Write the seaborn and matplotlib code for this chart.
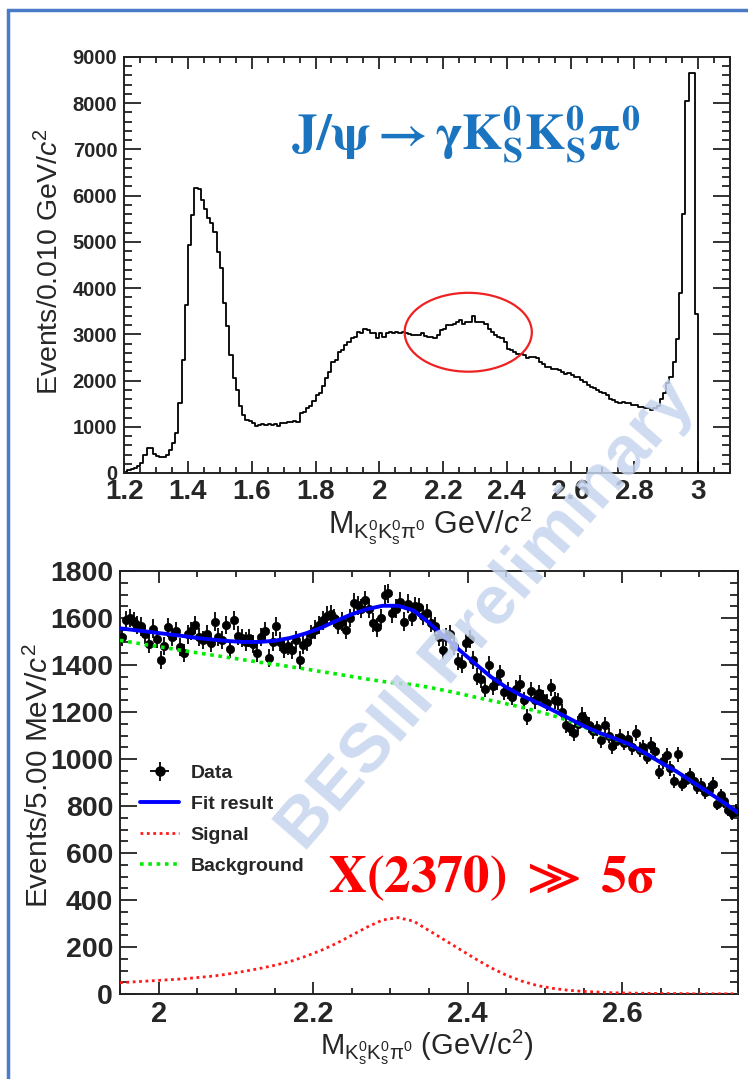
import numpy as np
import pandas as pd
import matplotlib
matplotlib.use("Agg")
import matplotlib.pyplot as plt
import seaborn as sns
from matplotlib.patches import Ellipse, Rectangle
from matplotlib.ticker import MultipleLocator, FixedLocator, FixedFormatter
from matplotlib.lines import Line2D

# ---------------- data ----------------
# Top panel: events per 0.010 GeV/c^2, bins from 1.20 to 3.10
top_counts = [
    15, 55, 85, 110, 145, 220, 400, 540, 540, 420,
    360, 345, 345, 395, 505, 650, 865, 1510, 2450, 3640,
    4930, 5580, 6160, 6150, 5900, 5720, 5510, 5400, 5220, 4790,
    4430, 3670, 3170, 2560, 2050, 1800, 1440, 1260, 1150, 1120,
    1080, 1010, 1030, 1050, 1040, 1060, 1040, 1060, 1010, 1080,
    1090, 1110, 1100, 1120, 1100, 1290, 1330, 1400, 1450, 1560,
    1680, 1720, 1880, 2045, 2190, 2400, 2440, 2620, 2660, 2760,
    2840, 2910, 2945, 3050, 3030, 3125, 3090, 3030, 3020, 2910,
    3030, 2945, 3020, 3050, 3030, 3050, 3020, 3050, 3020, 3000,
    2980, 2980, 2980, 3020, 2960, 2945, 2945, 2910, 2980, 3090,
    3125, 3200, 3200, 3230, 3270, 3300, 3230, 3270, 3270, 3390,
    3270, 3270, 3270, 3230, 3125, 3050, 2980, 2945, 2910, 2840,
    2690, 2660, 2620, 2585, 2585, 2550, 2480, 2510, 2510, 2480,
    2400, 2350, 2300, 2300, 2260, 2260, 2225, 2190, 2150, 2170,
    2115, 2080, 2080, 2010, 1970, 1900, 1860, 1830, 1790, 1755,
    1720, 1680, 1610, 1575, 1540, 1520, 1540, 1505, 1505, 1470,
    1470, 1430, 1430, 1400, 1400, 1360, 1400, 1460, 1600, 1720,
    1940, 2080, 2400, 2900, 3900, 5600, 8050, 8650, 8650, 3450,
    0, 0, 0, 0, 0, 0, 0, 0, 0, 0,
]
top_xticks = [1.2, 1.4, 1.6, 1.8, 2.0, 2.2, 2.4, 2.6, 2.8, 3.0]
top_xticklabels = ["1.2", "1.4", "1.6", "1.8", "2", "2.2", "2.4", "2.6", "2.8", "3"]
top_yticks = [0, 1000, 2000, 3000, 4000, 5000, 6000, 7000, 8000, 9000]

# Bottom panel: events per 5 MeV/c^2, bins from 1.95 to 2.75
data_counts = [
    1520, 1590, 1600, 1585, 1570, 1565, 1530, 1490, 1555, 1510,
    1420, 1480, 1560, 1520, 1545, 1475, 1450, 1530, 1545, 1570,
    1520, 1505, 1530, 1495, 1585, 1520, 1505, 1570, 1470, 1590,
    1525, 1515, 1500, 1515, 1490, 1450, 1520, 1545, 1430, 1500,
    1565, 1500, 1470, 1480, 1465, 1505, 1420, 1485, 1500, 1530,
    1550, 1570, 1590, 1610, 1615, 1600, 1570, 1585, 1550, 1600,
    1665, 1655, 1640, 1675, 1640, 1580, 1560, 1600, 1700, 1705,
    1620, 1640, 1670, 1585, 1660, 1605, 1650, 1645, 1610, 1620,
    1580, 1565, 1520, 1465, 1520, 1530, 1480, 1415, 1405, 1495,
    1510, 1420, 1350, 1340, 1300, 1400, 1310, 1330, 1365, 1285,
    1290, 1265, 1300, 1320, 1250, 1180, 1290, 1250, 1280, 1260,
    1240, 1305, 1250, 1245, 1200, 1145, 1130, 1110, 1150, 1185,
    1165, 1145, 1120, 1130, 1080, 1145, 1100, 1055, 1075, 1095,
    1070, 1085, 1050, 1110, 1040, 1050, 1010, 1060, 1035, 945,
    990, 1015, 960, 905, 1020, 895, 910, 930, 905, 880,
    890, 860, 870, 895, 810, 845, 820, 785, 770, 780,
]
# Fit curves sampled every 0.02 GeV/c^2 from 1.95 to 2.75
fit_result = [
    1556, 1548, 1540, 1532, 1524, 1515, 1508, 1502, 1498, 1498,
    1503, 1515, 1534, 1558, 1588, 1616, 1638, 1652, 1652, 1632,
    1580, 1520, 1462, 1405, 1350, 1305, 1270, 1240, 1208, 1175,
    1141, 1112, 1088, 1062, 1025, 985, 948, 905, 862, 818, 772,
]
signal = [
    48, 52, 56, 60, 64, 70, 76, 85, 96, 108,
    122, 138, 160, 185, 215, 250, 285, 315, 325, 310,
    270, 230, 190, 150, 112, 80, 55, 36, 24, 16,
    11, 8, 5, 4, 3, 2, 2, 1, 1, 1, 1,
]
background = [
    1505, 1494, 1483, 1473, 1462, 1452, 1442, 1432, 1422, 1412,
    1403, 1393, 1383, 1372, 1362, 1351, 1340, 1330, 1322, 1316,
    1305, 1292, 1278, 1263, 1249, 1235, 1220, 1203, 1185, 1164,
    1137, 1108, 1085, 1060, 1023, 984, 947, 904, 861, 817, 771,
]
bot_xticks = [2.0, 2.2, 2.4, 2.6]
bot_xticklabels = ["2", "2.2", "2.4", "2.6"]
bot_yticks = [0, 200, 400, 600, 800, 1000, 1200, 1400, 1600, 1800]

# ---------------- style ----------------
sns.set_style("ticks")
plt.rcParams["font.family"] = ["Liberation Sans", "DejaVu Sans"]
plt.rcParams["mathtext.fontset"] = "custom"
plt.rcParams["mathtext.rm"] = "Liberation Sans"
plt.rcParams["mathtext.it"] = "Liberation Sans:italic"
plt.rcParams["mathtext.bf"] = "Liberation Sans:bold"

W, H = 748, 1079
fig = plt.figure(figsize=(W / 100, H / 100), dpi=100)
fig.patch.set_facecolor("white")

def frac_axes(l, t, r, b):
    return fig.add_axes([l / W, 1 - b / H, (r - l) / W, (b - t) / H])

ax1 = frac_axes(124.2, 57, 730, 473)
ax2 = frac_axes(120, 571, 738, 994)

# ---------------- top panel ----------------
edges = [round(1.2 + 0.01 * i, 4) for i in range(len(top_counts) + 1)]
centers = [round(0.5 * (edges[i] + edges[i + 1]), 5) for i in range(len(top_counts))]
df_top = pd.DataFrame({"m": centers, "w": [float(v) for v in top_counts]})
sns.histplot(data=df_top, x="m", weights="w", bins=edges, element="step",
             fill=False, color="black", linewidth=1.3, ax=ax1)
ax1.set_xlim(1.2, 3.1)
ax1.set_ylim(0, 9000)

ax1.xaxis.set_major_locator(FixedLocator(top_xticks))
ax1.xaxis.set_major_formatter(FixedFormatter(top_xticklabels))
ax1.xaxis.set_minor_locator(MultipleLocator(0.05))
ax1.yaxis.set_major_locator(FixedLocator(top_yticks))
ax1.yaxis.set_minor_locator(MultipleLocator(200))

for ax in (ax1, ax2):
    ax.tick_params(which="both", direction="in", top=True, right=True, width=1.3, color="#222222")
    ax.tick_params(axis="y", which="major", length=12.5)
    ax.tick_params(axis="y", which="minor", length=6.0)
    ax.tick_params(axis="x", which="major", length=8.5)
    ax.tick_params(axis="x", which="minor", length=4.5)
    for s in ax.spines.values():
        s.set_linewidth(1.4)
        s.set_color("#222222")
    ax.set_facecolor("white")

ax1.tick_params(axis="y", labelsize=14.5, pad=5)
ax1.tick_params(axis="x", labelsize=20, pad=4)
for lab in ax1.get_xticklabels() + ax1.get_yticklabels():
    lab.set_fontweight("bold")

ax1.set_ylabel(r"Events/0.010 GeV/$c^{2}$", fontsize=20.5)
ax1.yaxis.set_label_coords(-0.099, 0.508)
ax1.set_xlabel(r"M$_{\mathregular{K^{0}_{s}K^{0}_{s}\pi^{0}}}$ GeV/$c^{2}$", fontsize=22)
ax1.xaxis.set_label_coords(0.505, -0.077)

ax1.add_patch(Ellipse((2.279, 3045), 0.399, 1706, fill=False,
                      edgecolor="#ee2222", linewidth=1.6, zorder=5))

fig.text(466 / W, 1 - 135 / H,
         r"$\mathbf{J/\psi \rightarrow \gamma K^0_S K^0_S \pi^0}$",
         color="#1a74c0", fontsize=37, ha="center", va="center",
         math_fontfamily="stix")

# ---------------- bottom panel ----------------
xb = np.round(1.9525 + 0.005 * np.arange(len(data_counts)), 5)
xc = np.round(np.linspace(1.95, 2.75, len(fit_result)), 4)
yerr = np.sqrt(np.array(data_counts, dtype=float))

eb = ax2.errorbar(xb, data_counts, yerr=yerr, xerr=0.0025, fmt="none",
                  ecolor="black", elinewidth=1.3, capsize=0, zorder=2)
sns.scatterplot(x=xb, y=data_counts, color="black", s=36, edgecolor="black",
                linewidth=0.5, ax=ax2, zorder=3)
sns.lineplot(x=xc, y=background, color="#00ee00", linewidth=2.6,
             linestyle=(0, (1.0, 1.3)), ax=ax2, zorder=4)
sns.lineplot(x=xc, y=signal, color="#ff1a1a", linewidth=2.0,
             linestyle=(0, (1.0, 1.3)), ax=ax2, zorder=4)
sns.lineplot(x=xc, y=fit_result, color="#0000ff", linewidth=2.8, ax=ax2, zorder=5)

ax2.set_xlim(1.95, 2.75)
ax2.set_ylim(0, 1800)
ax2.xaxis.set_major_locator(FixedLocator(bot_xticks))
ax2.xaxis.set_major_formatter(FixedFormatter(bot_xticklabels))
ax2.xaxis.set_minor_locator(MultipleLocator(0.05))
ax2.yaxis.set_major_locator(FixedLocator(bot_yticks))
ax2.yaxis.set_minor_locator(MultipleLocator(50))
ax2.tick_params(axis="y", labelsize=20.5, pad=5)
ax2.tick_params(axis="x", labelsize=21, pad=4)
for lab in ax2.get_xticklabels() + ax2.get_yticklabels():
    lab.set_fontweight("bold")

ax2.set_ylabel(r"Events/5.00 MeV/$c^{2}$", fontsize=21.5)
ax2.yaxis.set_label_coords(-0.107, 0.515)
ax2.set_xlabel(r"M$_{\mathregular{K^{0}_{s}K^{0}_{s}\pi^{0}}}$ (GeV/c$^{\mathregular{2}}$)", fontsize=21)
ax2.xaxis.set_label_coords(0.497, -0.078)

h_data = Line2D([], [], color="black", marker="o", markersize=6.5, linestyle="none")
h_fit = Line2D([], [], color="#0000ff", linewidth=2.8)
h_sig = Line2D([], [], color="#ff1a1a", linewidth=2.0, linestyle=(0, (1.0, 1.3)))
h_bkg = Line2D([], [], color="#00ee00", linewidth=2.6, linestyle=(0, (1.0, 1.3)))
leg = ax2.legend([(eb, h_data), h_fit, h_sig, h_bkg],
                 ["Data", "Fit result", "Signal", "Background"],
                 loc="upper left", bbox_to_anchor=(0.02, 0.561), frameon=False,
                 prop={"size": 14, "weight": "bold"}, handlelength=2.0,
                 labelspacing=0.69, handletextpad=0.6, borderaxespad=0)

fig.text(492 / W, 1 - 878 / H, r"$\mathbf{X(2370)\ \gg\ 5\sigma}$",
         color="#ff0000", fontsize=38, ha="center", va="center",
         math_fontfamily="stix")

# watermark
fig.text(487 / W, 1 - 615 / H, "BESIII Preliminary", rotation=49,
         color="#c6d5ee", alpha=0.85, fontsize=50, fontweight="bold",
         ha="center", va="center", zorder=20)

# slide frame
fig.patches.append(Rectangle((8 / W, -0.05), 1.2, 1.05 - 10 / H,
                             transform=fig.transFigure, fill=False,
                             edgecolor="#4a7bc8", linewidth=2.5, zorder=0))

fig.savefig("out.png", dpi=100)
